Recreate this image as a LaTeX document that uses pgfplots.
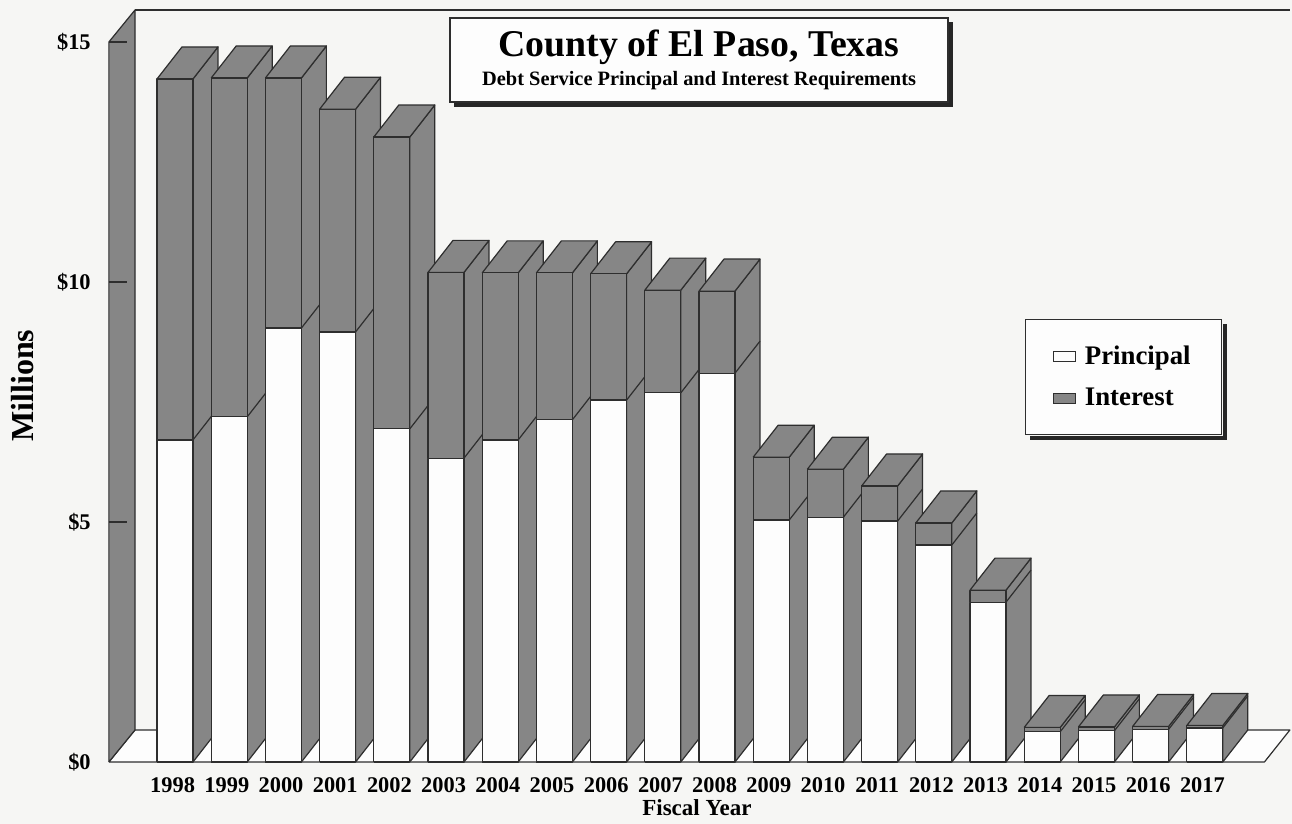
\documentclass[border=0pt]{standalone}
\usepackage{pgfplots}
\pgfplotsset{compat=1.18}
\usepackage{pgfplotstable}
\usepackage{fontspec}
\setmainfont{Liberation Serif}

\definecolor{barfill}{HTML}{868686}
\definecolor{edge}{HTML}{2E2E2E}
\definecolor{paper}{HTML}{F6F6F4}
\definecolor{facewhite}{HTML}{FDFDFD}

% Debt service by fiscal year, millions of dollars
\pgfplotstableread{
year principal interest
1998 6.71 7.52
1999 7.19 7.06
2000 9.04 5.21
2001 8.96 4.64
2002 6.94 6.08
2003 6.33 3.87
2004 6.71 3.48
2005 7.13 3.06
2006 7.54 2.63
2007 7.69 2.14
2008 8.10 1.71
2009 5.04 1.31
2010 5.10 1.00
2011 5.02 0.73
2012 4.52 0.46
2013 3.33 0.25
2014 0.63 0.09
2015 0.65 0.08
2016 0.68 0.06
2017 0.71 0.05
}\debt

% bar geometry: half width of the front face and the depth offset
\def\hw{0.332}
\def\dx{0.461}
\def\dy{0.667}

\begin{document}
\begin{tikzpicture}[font=\bfseries]
\path[use as bounding box, fill=paper] (0,0) rectangle (646pt,412pt);
\begin{axis}[
  at={(52.27pt,31pt)}, anchor=south west,
  x=27.1pt, y=24pt,
  xmin=-1.3, xmax=20.7, ymin=0, ymax=16,
  clip=false,
  axis line style={draw=none},
  tick style={draw=none},
  xtick={0,...,19},
  xticklabels={1998,1999,2000,2001,2002,2003,2004,2005,2006,2007,2008,2009,2010,2011,2012,2013,2014,2015,2016,2017},
  ytick={0,5,10,15},
  yticklabels={\$0,\$5,\$10,\$15},
  ticklabel style={font=\fontsize{11.2}{13}\selectfont\bfseries},
  xticklabel style={yshift=-4.2pt, xshift=-1.2pt},
  yticklabel style={xshift=-3.4pt},
  xlabel={Fiscal Year},
  xlabel style={at={(axis description cs:0.4968,-0.0703)}, anchor=base, font=\fontsize{11.5}{13}\selectfont\bfseries},
  ylabel={Millions},
  ylabel style={at={(axis description cs:-0.0688,0.49)}, anchor=center, font=\fontsize{16}{18}\selectfont\bfseries},
  title={{\fontsize{18.9}{20}\selectfont County of El Paso, Texas}\\[2.5pt]{\fontsize{10.2}{12}\selectfont Debt Service Principal and Interest Requirements}},
  title style={name=ttl, at={(axis description cs:0.4986,0.914)}, anchor=center, yshift=-6pt, align=center,
    draw=edge, line width=0.6pt, fill=facewhite, minimum width=249pt, minimum height=42pt},
  legend style={name=leg, at={(axis description cs:0.772,0.5768)}, anchor=north west,
    draw=edge, line width=0.6pt, fill=facewhite,
    inner xsep=13.5pt, inner ysep=11pt, row sep=6.5pt, column sep=2.5pt,
    font=\fontsize{13.4}{15}\selectfont\bfseries,
    cells={anchor=west}},
  legend image code/.code={\draw[#1] (0pt,-2.6pt) rectangle (11pt,2.6pt);},
  side face/.style={fill=barfill, draw=edge, line width=0.6pt, line join=round, forget plot},
  principal face/.style={fill=facewhite, draw=edge, line width=0.6pt, line join=round, forget plot},
  interest face/.style={fill=barfill, draw=edge, line width=0.6pt, line join=round, forget plot},
  edge line/.style={draw=edge, line width=0.6pt, forget plot},
]
% floor and left wall of the chart box
\addplot[fill=facewhite, draw=edge, line width=0.6pt, line join=round, forget plot]
  coordinates {(-1.22,0) (-0.738,0.667) (20.57,0.667) (20.1,0) (-1.22,0)};
\addplot[side face] coordinates {(-1.22,0) (-0.738,0.667) (-0.738,15.667) (-1.22,15) (-1.22,0)};
\addplot[edge line] coordinates {(-0.738,15.667) (20.57,15.667)};
\addplot[edge line] coordinates {(-1.22,5) (-0.89,5)};
\addplot[edge line] coordinates {(-1.22,10) (-0.89,10)};
\addplot[edge line] coordinates {(-1.22,15) (-0.89,15)};

% 3-D stacked bars, drawn left to right so each hides the side of the one before
\pgfplotsinvokeforeach{0,...,19}{%
  \pgfplotstablegetelem{#1}{principal}\of\debt
  \let\valP\pgfplotsretval
  \pgfplotstablegetelem{#1}{interest}\of\debt
  \let\valI\pgfplotsretval
  \pgfmathsetmacro\valT{\valP+\valI}%
  \pgfmathsetmacro\xl{#1-\hw}%
  \pgfmathsetmacro\xr{#1+\hw}%
  \pgfmathsetmacro\xlb{#1-\hw+\dx}%
  \pgfmathsetmacro\xrb{#1+\hw+\dx}%
  \pgfmathsetmacro\Pb{\valP+\dy}%
  \pgfmathsetmacro\Tb{\valT+\dy}%
  \edef\drawbar{%
    \noexpand\addplot[side face] coordinates {(\xr,0) (\xrb,\dy) (\xrb,\Tb) (\xr,\valT) (\xr,0)};
    \noexpand\addplot[edge line] coordinates {(\xr,\valP) (\xrb,\Pb)};
    \noexpand\addplot[side face] coordinates {(\xl,\valT) (\xr,\valT) (\xrb,\Tb) (\xlb,\Tb) (\xl,\valT)};
    \noexpand\addplot[principal face] coordinates {(\xl,0) (\xr,0) (\xr,\valP) (\xl,\valP) (\xl,0)};
    \noexpand\addplot[interest face] coordinates {(\xl,\valP) (\xr,\valP) (\xr,\valT) (\xl,\valT) (\xl,\valP)};
  }%
  \drawbar
}

\addlegendimage{fill=facewhite, draw=edge, line width=0.6pt}
\addlegendentry{Principal}
\addlegendimage{fill=barfill, draw=edge, line width=0.6pt}
\addlegendentry{Interest}
\end{axis}
% dark offset shadows along the right and lower edges of the title and legend boxes
\foreach \bx in {ttl,leg}{
  \fill[black!85] ([xshift=0.3pt,yshift=-2.3pt]\bx.north east) rectangle ([xshift=2.3pt,yshift=-2.3pt]\bx.south east);
  \fill[black!85] ([xshift=2.3pt,yshift=-0.3pt]\bx.south west) rectangle ([xshift=2.3pt,yshift=-2.3pt]\bx.south east);
}
\end{tikzpicture}
\end{document}
